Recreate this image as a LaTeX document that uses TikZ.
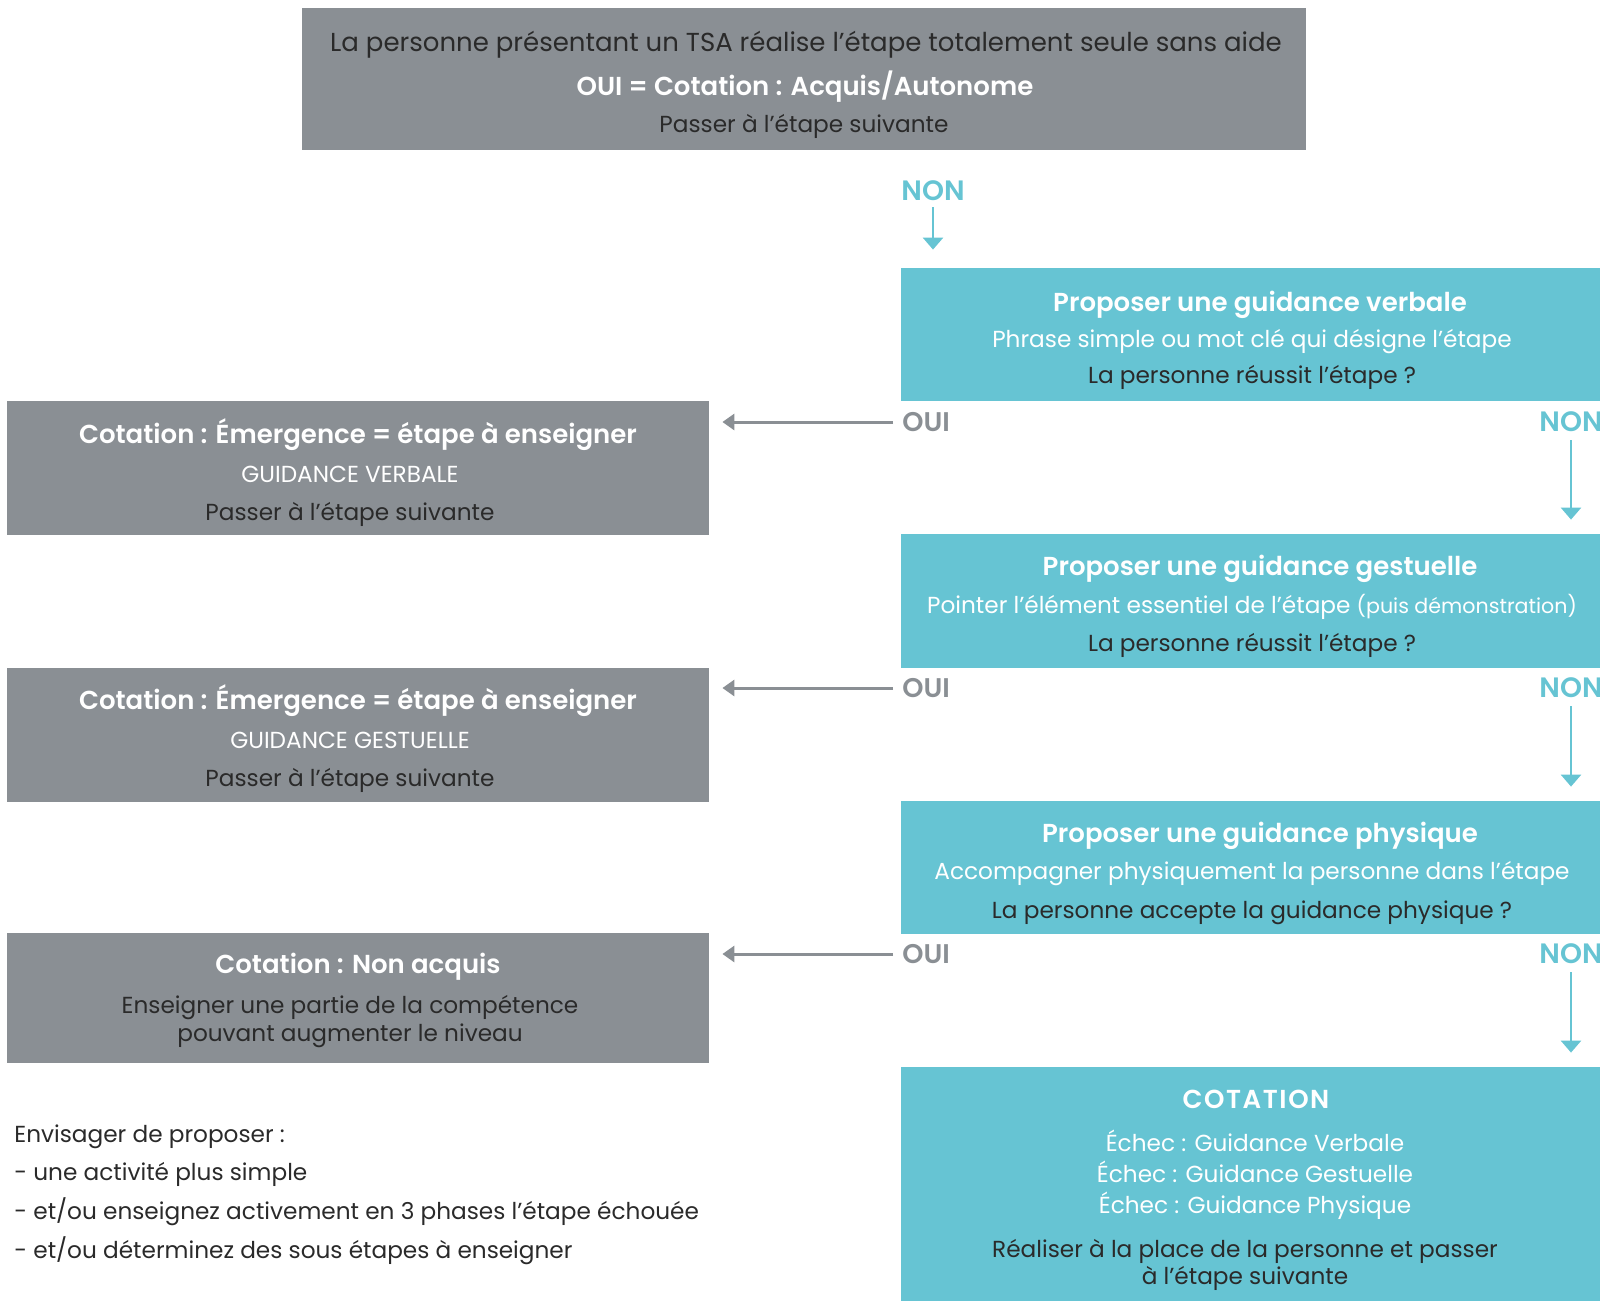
\documentclass[tikz,border=0pt]{standalone}
\usepackage{fontspec}
\setmainfont{Poppins}[BoldFont={Poppins SemiBold}]
\usetikzlibrary{arrows.meta,fit}
\definecolor{grayb}{HTML}{8A8F94}
\definecolor{tealb}{HTML}{66C4D3}
\definecolor{darkt}{HTML}{2A2A2A}
\begin{document}
\begin{tikzpicture}[x=0.5pt,y=-0.5pt,
  gbox/.style={fill=grayb,draw=none,inner sep=0pt},
  tbox/.style={fill=tealb,draw=none,inner sep=0pt},
  txt/.style={inner sep=0pt,anchor=base,text=darkt,font=\fontsize{11.6}{14}\selectfont},
  wtxt/.style={txt,text=white},
  ttl/.style={inner sep=0pt,anchor=base,text=white,font=\fontsize{13}{15}\selectfont\bfseries},
  ouilab/.style={inner sep=0pt,anchor=west,text=grayb,font=\fontsize{13.5}{15}\selectfont\bfseries},
  nonlab/.style={inner sep=0pt,anchor=center,text=tealb,font=\fontsize{14}{15}\selectfont\bfseries},
  garrow/.style={draw=grayb,line width=1.5pt,-{Triangle[width=8pt,length=6pt]}},
  tarrow/.style={draw=tealb,line width=1.3pt,-{Triangle[width=10pt,length=6pt]}}]
\useasboundingbox (0,0) rectangle (1600,1301);
% boxes
\node[gbox,fit={(302,8)(1306,150)}] (top) {};
\node[tbox,fit={(901,268)(1600,401)}] (t1) {};
\node[gbox,fit={(7,401)(709,535)}] (g1) {};
\node[tbox,fit={(901,534)(1600,668)}] (t2) {};
\node[gbox,fit={(7,668)(709,802)}] (g2) {};
\node[tbox,fit={(901,801)(1600,934)}] (t3) {};
\node[gbox,fit={(7,933)(709,1063)}] (g3) {};
\node[tbox,fit={(901,1067)(1600,1301)}] (t4) {};
% top texts
\node[txt,font=\fontsize{13}{15}\selectfont] (topa) at (806,51) {La personne présentant un TSA réalise l’étape totalement seule sans aide};
\node[ttl] (topb) at (805,95) {OUI = Cotation : Acquis/Autonome};
\node[txt] (topc) at (804,132) {Passer à l’étape suivante};
% teal 1
\node[ttl] (t1a) at (1260,311) {Proposer une guidance verbale};
\node[wtxt] (t1b) at (1252,347) {Phrase simple ou mot clé qui désigne l’étape};
\node[txt] (t1c) at (1252,383) {La personne réussit l’étape ?};
% gray 1
\node[ttl] (g1a) at (358,443) {Cotation : Émergence = étape à enseigner};
\node[wtxt] (g1b) at (350,482) {GUIDANCE VERBALE};
\node[txt] (g1c) at (350,520) {Passer à l’étape suivante};
% teal 2
\node[ttl] (t2a) at (1260,575) {Proposer une guidance gestuelle};
\node[wtxt] (t2b) at (1252,613) {Pointer l’élément essentiel de l’étape {\fontsize{10.3}{12}\selectfont(puis démonstration)}};
\node[txt] (t2c) at (1252,651) {La personne réussit l’étape ?};
% gray 2
\node[ttl] (g2a) at (358,709) {Cotation : Émergence = étape à enseigner};
\node[wtxt] (g2b) at (350,748) {GUIDANCE GESTUELLE};
\node[txt] (g2c) at (350,786) {Passer à l’étape suivante};
% teal 3
\node[ttl] (t3a) at (1260,842) {Proposer une guidance physique};
\node[wtxt] (t3b) at (1252,879) {Accompagner physiquement la personne dans l’étape};
\node[txt] (t3c) at (1252,918) {La personne accepte la guidance physique ?};
% gray 3
\node[ttl] (g3a) at (358,973) {Cotation : Non acquis};
\node[txt] (g3b) at (350,1013) {Enseigner une partie de la compétence};
\node[txt] (g3c) at (350,1041) {pouvant augmenter le niveau};
% teal 4
\node[ttl,font=\fontsize{13}{15}\selectfont\bfseries\addfontfeature{LetterSpace=6}] (t4a) at (1256,1108) {COTATION};
\node[wtxt] (t4b) at (1255,1151) {Échec : Guidance Verbale};
\node[wtxt] (t4c) at (1255,1182) {Échec : Guidance Gestuelle};
\node[wtxt] (t4d) at (1255,1213) {Échec : Guidance Physique};
\node[txt] (t4e) at (1245,1257) {Réaliser à la place de la personne et passer};
\node[txt] (t4f) at (1245,1284) {à l’étape suivante};
% left note
\node[txt,anchor=base west] (n1) at (14,1142) {Envisager de proposer :};
\node[txt,anchor=base west] (n2) at (14,1180) {- une activité plus simple};
\node[txt,anchor=base west] (n3) at (14,1219) {- et/ou enseignez activement en 3 phases l’étape échouée};
\node[txt,anchor=base west] (n4) at (14,1258) {- et/ou déterminez des sous étapes à enseigner};
% labels
\node[nonlab] (non0) at (933,191) {NON};
\node[ouilab] (oui1) at (902,422) {OUI};
\node[ouilab] (oui2) at (902,688) {OUI};
\node[ouilab] (oui3) at (902,954) {OUI};
\node[nonlab] (non1) at (1571,422) {NON};
\node[nonlab] (non2) at (1571,688) {NON};
\node[nonlab] (non3) at (1571,954) {NON};
% arrows
\draw[tarrow,shorten <=3pt,shorten >=9pt] (non0.south) -- (non0.south |- t1.north);
\draw[garrow,shorten <=4.5pt,shorten >=6.5pt] (oui1.west) -- (oui1.west -| g1.east);
\draw[garrow,shorten <=4.5pt,shorten >=6.5pt] (oui2.west) -- (oui2.west -| g2.east);
\draw[garrow,shorten <=4.5pt,shorten >=6.5pt] (oui3.west) -- (oui3.west -| g3.east);
\draw[tarrow,shorten <=4pt,shorten >=7pt] (non1.south) -- (non1.south |- t2.north);
\draw[tarrow,shorten <=4pt,shorten >=7pt] (non2.south) -- (non2.south |- t3.north);
\draw[tarrow,shorten <=4pt,shorten >=7pt] (non3.south) -- (non3.south |- t4.north);
\end{tikzpicture}
\end{document}
